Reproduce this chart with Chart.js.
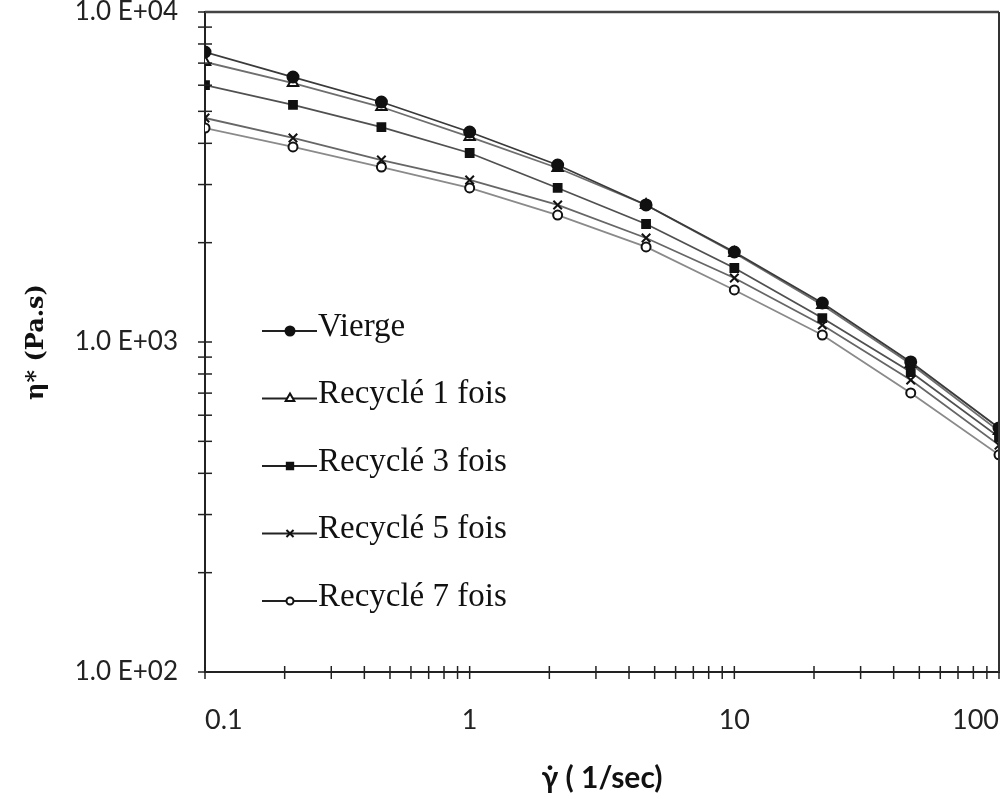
<!DOCTYPE html>
<html>
<head>
<meta charset="utf-8">
<script src="https://cdn.jsdelivr.net/npm/chart.js@4.4.1/dist/chart.umd.min.js"></script>
<style>
    html, body { margin: 0; padding: 0; background: #fff; }
    #wrap { width: 1007px; height: 799px; }
</style>
</head>
<body>
<div id="wrap"><canvas id="viscoChart"></canvas></div>
<script>
// shear rate (1/s) and complex viscosity (Pa.s)
const shearRates = [0.1, 0.215, 0.464, 1, 2.15, 4.64, 10, 21.5, 46.4, 100]
const vierge = [7565, 6353, 5337, 4329, 3439, 2602, 1874, 1313, 870, 549]
const recycle1 = [7056, 6092, 5153, 4182, 3367, 2602, 1861, 1295, 858, 537]
const recycle3 = [6008, 5227, 4482, 3739, 2929, 2278, 1676, 1182, 811, 515]
const recycle5 = [4773, 4152, 3560, 3097, 2602, 2066, 1563, 1126, 767, 487]
const recycle7 = [4451, 3899, 3390, 2929, 2425, 1941, 1438, 1050, 701, 455]

const seriesNames = ['Vierge', 'Recyclé 1 fois', 'Recyclé 3 fois', 'Recyclé 5 fois', 'Recyclé 7 fois']

const xDecades = [0.1, 1, 10, 100]
const xTickLabels = ['0.1', '1', '10', '100']
const yDecades = [100, 1000, 10000]
const yTickLabels = ['1.0 E+02', '1.0 E+03', '1.0 E+04']

// 1..9 inside each decade, used for the small tick marks
const withMinor = (decades) => {
    const out = []
    decades.forEach((d, i) => {
        if (i === decades.length - 1) {
            out.push(d)
            return
        }
        for (let k = 1; k <= 9; k++) out.push(d * k)
    })
    return out
}

const toPoints = (values) => values.map((v, i) => ({ x: shearRates[i], y: v }))

const styles = [
    { pointStyle: 'circle', fill: '#111', line: '#3a3a3a', radius: 5.5 },
    { pointStyle: 'triangle', fill: '#fff', line: '#6e6e6e', radius: 6 },
    { pointStyle: 'rect', fill: '#111', line: '#505050', radius: 5.5 },
    { pointStyle: 'crossRot', fill: '#111', line: '#666', radius: 6 },
    { pointStyle: 'circle', fill: '#fff', line: '#8a8a8a', radius: 4.5 }
]

const seriesValues = [vierge, recycle1, recycle3, recycle5, recycle7]

const datasets = seriesValues.map((values, i) => ({
    label: seriesNames[i],
    data: toPoints(values),
    borderColor: styles[i].line,
    borderWidth: 1.8,
    pointStyle: styles[i].pointStyle,
    pointRadius: styles[i].radius,
    pointBackgroundColor: styles[i].fill,
    pointBorderColor: '#111',
    pointBorderWidth: 2,
    tension: 0
}))

// chart.js adds tick padding to the scale edges, drop it so the plot box is fixed
const noEdgePadding = (scale) => {
    scale.paddingLeft = 0
    scale.paddingRight = 0
    scale.paddingTop = 0
    scale.paddingBottom = 0
}

// ticks that cross the axis lines, plus the frame on top and right
const frameAndTicks = {
    id: 'frameAndTicks',
    afterDraw(chart) {
        const { ctx, chartArea, scales } = chart
        ctx.save()
        ctx.strokeStyle = '#222'
        ctx.lineWidth = 1.5
        scales.x.ticks.forEach((t) => {
            const px = scales.x.getPixelForValue(t.value)
            ctx.beginPath()
            ctx.moveTo(px, chartArea.bottom - 6)
            ctx.lineTo(px, chartArea.bottom + 7)
            ctx.stroke()
        })
        scales.y.ticks.forEach((t) => {
            const py = scales.y.getPixelForValue(t.value)
            ctx.beginPath()
            ctx.moveTo(chartArea.left - 7, py)
            ctx.lineTo(chartArea.left + 7, py)
            ctx.stroke()
        })
        ctx.lineWidth = 2.5
        ctx.strokeStyle = '#444'
        ctx.beginPath()
        ctx.moveTo(chartArea.left, chartArea.top)
        ctx.lineTo(chartArea.right, chartArea.top)
        ctx.stroke()
        ctx.lineWidth = 2
        ctx.strokeStyle = '#333'
        ctx.beginPath()
        ctx.moveTo(chartArea.right, chartArea.top)
        ctx.lineTo(chartArea.right, chartArea.bottom)
        ctx.stroke()
        ctx.restore()
    }
}

// legend sits inside the plot, line with marker then label
const insideLegend = {
    id: 'insideLegend',
    afterDraw(chart) {
        const { ctx } = chart
        const x0 = 262
        const y0 = 327
        const rowGap = 67.5
        ctx.save()
        chart.data.datasets.forEach((ds, i) => {
            const y = y0 + i * rowGap
            ctx.strokeStyle = '#222'
            ctx.lineWidth = 2
            ctx.beginPath()
            ctx.moveTo(x0, y + 4)
            ctx.lineTo(x0 + 55, y + 4)
            ctx.stroke()
            ctx.fillStyle = ds.pointBackgroundColor
            ctx.strokeStyle = '#111'
            ctx.lineWidth = 2
            Chart.helpers.drawPoint(ctx, {
                pointStyle: ds.pointStyle,
                radius: ds.pointRadius - 1,
                borderWidth: 2,
                rotation: 0
            }, x0 + 28, y + 4)
            ctx.fillStyle = '#111'
            ctx.font = '33px "Liberation Serif"'
            ctx.textBaseline = 'middle'
            ctx.textAlign = 'left'
            ctx.fillText(ds.label, x0 + 56, y)
        })
        ctx.restore()
    }
}

const canvas = document.getElementById('viscoChart')

new Chart(canvas, {
    type: 'line',
    data: { datasets },
    options: {
        responsive: true,
        maintainAspectRatio: false,
        animation: false,
        layout: { padding: { top: 12, right: 7, left: 0, bottom: 0 } },
        plugins: {
            legend: { display: false },
            tooltip: { enabled: false }
        },
        scales: {
            x: {
                type: 'logarithmic',
                min: 0.1,
                max: 100,
                afterBuildTicks: (scale) => {
                    scale.ticks = withMinor(xDecades).map((v) => ({ value: v }))
                },
                afterFit: (scale) => {
                    scale.height = 127
                    noEdgePadding(scale)
                },
                grid: { display: false, drawTicks: false },
                border: { display: true, color: '#222', width: 2 },
                ticks: {
                    autoSkip: false,
                    maxRotation: 0,
                    align: 'inner',
                    padding: 32,
                    color: '#222',
                    font: { family: 'Lato', size: 27 },
                    callback: (value) => {
                        const i = xDecades.indexOf(value)
                        return i >= 0 ? xTickLabels[i] : ''
                    }
                },
                title: {
                    display: true,
                    text: 'γ̇ ( 1/sec)',
                    color: '#111',
                    font: { family: 'Lato', size: 30, weight: 'bold' },
                    padding: { top: 0, bottom: 3 }
                }
            },
            y: {
                type: 'logarithmic',
                min: 100,
                max: 10000,
                afterBuildTicks: (scale) => {
                    scale.ticks = withMinor(yDecades).map((v) => ({ value: v }))
                },
                afterFit: (scale) => {
                    scale.width = 205
                    noEdgePadding(scale)
                },
                grid: { display: false, drawTicks: false },
                border: { display: true, color: '#222', width: 2 },
                ticks: {
                    autoSkip: false,
                    padding: 27,
                    color: '#222',
                    font: { family: 'Lato', size: 26, lineHeight: 1 },
                    callback: (value) => {
                        const i = yDecades.indexOf(value)
                        return i >= 0 ? yTickLabels[i] : ''
                    }
                },
                title: {
                    display: true,
                    text: 'η* (Pa.s)',
                    color: '#111',
                    font: { family: '"DejaVu Serif"', size: 24, weight: 'bold' },
                    padding: { top: 22, bottom: 0 }
                }
            }
        }
    },
    plugins: [frameAndTicks, insideLegend]
})
</script>
</body>
</html>
